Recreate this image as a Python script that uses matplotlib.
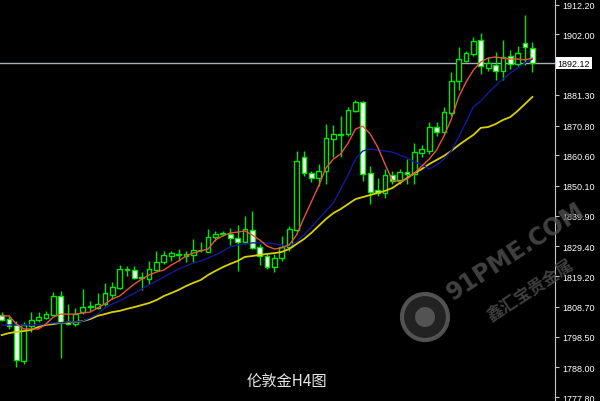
import matplotlib
matplotlib.use("Agg")
import matplotlib.pyplot as plt
import matplotlib.transforms as mtransforms
from matplotlib.patches import Rectangle, Circle

# H4 candles (oldest first)
opens = [1805.9, 1804.5, 1802.5, 1790.1, 1802.1, 1804.2, 1804.9, 1805.9, 1812.4, 1803.5,
         1802.8, 1806.9, 1808.6, 1808.3, 1809.7, 1812.8, 1815.1, 1821.3, 1821.3, 1818.6,
         1818.2, 1821.3, 1824.1, 1826.1, 1826.6, 1826.1, 1826.5, 1828.0, 1827.5, 1832.6,
         1833.8, 1833.6, 1832.3, 1830.9, 1835.0, 1829.2, 1826.1, 1822.3, 1825.4, 1829.2,
         1835.0, 1860.0, 1854.5, 1852.8, 1855.2, 1866.2, 1867.7, 1867.9, 1875.8, 1878.9,
         1854.5, 1848.7, 1847.7, 1853.9, 1852.1, 1854.9, 1854.2, 1861.4, 1862.1, 1870.3,
         1868.6, 1875.1, 1886.1, 1892.9, 1895.3, 1900.1, 1890.5, 1891.5, 1889.5, 1894.6,
         1891.9, 1899.1, 1897.4]
highs = [1806.9, 1805.6, 1803.8, 1803.5, 1806.9, 1806.9, 1807.3, 1813.8, 1814.1, 1809.7,
         1808.3, 1814.8, 1810.7, 1813.4, 1816.9, 1817.2, 1823.0, 1822.7, 1822.7, 1820.6,
         1824.4, 1827.8, 1827.8, 1827.8, 1828.5, 1827.8, 1831.9, 1830.9, 1835.4, 1834.7,
         1834.7, 1835.7, 1836.7, 1839.8, 1841.5, 1830.2, 1826.8, 1826.8, 1833.0, 1836.4,
         1862.1, 1862.1, 1855.2, 1857.6, 1871.3, 1871.0, 1874.1, 1877.2, 1879.6, 1879.2,
         1856.9, 1852.8, 1855.9, 1855.2, 1855.9, 1859.3, 1864.8, 1864.1, 1872.0, 1872.0,
         1877.2, 1889.1, 1897.7, 1896.3, 1901.1, 1902.5, 1894.3, 1896.0, 1900.1, 1896.7,
         1898.1, 1908.7, 1899.4]
lows = [1803.8, 1801.1, 1788.1, 1789.1, 1800.1, 1803.5, 1804.5, 1805.6, 1791.2, 1802.5,
        1802.1, 1806.2, 1807.3, 1808.0, 1809.0, 1811.4, 1814.8, 1819.3, 1818.2, 1814.5,
        1816.5, 1821.0, 1823.4, 1824.4, 1824.4, 1824.1, 1824.1, 1827.5, 1827.5, 1831.3,
        1833.0, 1829.9, 1821.0, 1830.2, 1828.5, 1823.0, 1821.7, 1820.6, 1824.4, 1827.8,
        1834.3, 1853.5, 1851.5, 1850.1, 1850.8, 1860.0, 1860.0, 1867.2, 1875.4, 1851.8,
        1843.9, 1846.7, 1846.0, 1850.8, 1850.8, 1850.8, 1850.8, 1860.0, 1861.1, 1867.2,
        1867.9, 1874.1, 1883.0, 1892.6, 1894.6, 1888.5, 1889.5, 1886.4, 1886.4, 1890.2,
        1891.2, 1891.5, 1889.1]
closes = [1804.2, 1802.1, 1790.5, 1802.5, 1804.2, 1805.2, 1806.2, 1812.4, 1803.5, 1802.8,
          1806.2, 1808.6, 1809.0, 1809.7, 1813.4, 1815.5, 1821.7, 1821.7, 1818.6, 1818.9,
          1821.7, 1824.1, 1826.5, 1827.1, 1826.8, 1826.8, 1828.2, 1828.2, 1832.6, 1833.6,
          1834.0, 1832.3, 1830.9, 1835.4, 1828.9, 1826.1, 1822.3, 1825.4, 1829.2, 1835.4,
          1858.7, 1854.5, 1852.8, 1855.2, 1866.5, 1867.9, 1867.9, 1876.1, 1878.9, 1854.2,
          1848.0, 1847.7, 1853.9, 1851.8, 1854.9, 1854.2, 1861.7, 1862.8, 1870.3, 1868.6,
          1875.4, 1886.1, 1893.6, 1895.7, 1899.8, 1891.2, 1892.2, 1889.5, 1894.3, 1891.9,
          1895.7, 1897.7, 1892.12]

# moving averages as drawn on the chart
ma_red = [1805.6, 1805.6, 1802.8, 1801.1, 1801.1, 1801.1, 1802.8, 1805.2, 1806.2, 1806.2,
          1806.2, 1806.6, 1806.9, 1808.3, 1809.7, 1811.4, 1812.4, 1814.5, 1816.5, 1818.2,
          1819.6, 1820.6, 1821.3, 1823.0, 1824.4, 1826.1, 1827.1, 1827.8, 1828.5, 1831.6,
          1833.0, 1834.0, 1834.3, 1834.7, 1833.3, 1831.6, 1829.5, 1828.5, 1828.9, 1829.9,
          1833.3, 1839.1, 1844.6, 1850.1, 1856.3, 1859.3, 1861.1, 1864.8, 1869.6, 1870.6,
          1867.9, 1863.5, 1857.6, 1852.1, 1851.5, 1852.5, 1854.5, 1856.9, 1859.3, 1862.4,
          1867.2, 1873.0, 1880.6, 1885.7, 1889.8, 1892.6, 1893.9, 1894.3, 1893.9, 1893.6,
          1893.6, 1893.3, 1893.9]
ma_blue = [1802.5, 1802.5, 1802.5, 1802.5, 1802.5, 1802.5, 1802.8, 1803.2, 1803.2, 1803.5,
           1803.5, 1803.8, 1804.9, 1806.2, 1808.3, 1809.7, 1810.7, 1812.1, 1813.4, 1814.8,
           1816.2, 1817.5, 1818.9, 1820.3, 1821.7, 1822.7, 1823.7, 1824.4, 1825.4, 1826.5,
           1827.8, 1829.2, 1829.9, 1830.2, 1830.6, 1830.6, 1830.6, 1830.2, 1829.9, 1829.5,
           1830.9, 1833.3, 1836.0, 1838.8, 1841.5, 1844.3, 1849.1, 1853.9, 1859.3, 1862.1,
           1862.8, 1862.4, 1862.1, 1861.7, 1860.7, 1859.7, 1858.3, 1857.3, 1855.9, 1857.3,
           1859.3, 1862.1, 1866.9, 1872.0, 1877.2, 1879.2, 1882.0, 1884.4, 1886.7, 1888.8,
           1890.5, 1892.2, 1893.6]
ma_yellow = [1799.0, 1799.7, 1800.1, 1800.4, 1800.8, 1801.8, 1802.5, 1802.8, 1803.2, 1803.3,
             1803.5, 1803.8, 1804.5, 1805.6, 1806.2, 1806.9, 1807.3, 1808.0, 1808.6, 1809.3,
             1810.0, 1811.0, 1812.4, 1813.4, 1814.5, 1815.8, 1816.9, 1817.9, 1819.6, 1821.0,
             1822.3, 1823.4, 1824.4, 1825.8, 1826.1, 1826.5, 1826.8, 1827.1, 1827.5, 1828.5,
             1830.2, 1831.9, 1834.0, 1836.4, 1838.8, 1840.8, 1842.2, 1843.9, 1845.6, 1846.3,
             1847.0, 1847.7, 1848.4, 1849.4, 1851.1, 1852.8, 1854.5, 1855.9, 1857.6, 1859.0,
             1860.4, 1862.1, 1864.1, 1865.9, 1867.6, 1870.0, 1870.3, 1871.3, 1872.7, 1873.7,
             1875.8, 1878.2, 1880.6]

y_ticks = [1912.20, 1902.00, 1881.30, 1870.80, 1860.60, 1850.10, 1839.90, 1829.40,
           1819.20, 1808.70, 1798.50, 1788.00, 1777.80]
last_price = 1892.12
title = "伦敦金H4图"
wm_site = "91PME.COM"
wm_name = "鑫汇宝贵金属"

plt.rcParams['font.family'] = ['Noto Sans CJK SC', 'DejaVu Sans']

fig = plt.figure(figsize=(6, 4.02), dpi=100, facecolor='black')
ax = fig.add_axes([0, 0, 555 / 600, 1])
ax.set_facecolor('black')

green = '#00e600'
n = len(closes)
for i in range(n):
    o, h, l, c = opens[i], highs[i], lows[i], closes[i]
    ax.vlines(i, l, h, color=green, lw=1, zorder=2)
    bottom = min(o, c)
    height = abs(c - o)
    face = 'white' if c < o else 'black'
    ax.add_patch(Rectangle((i - 0.32, bottom), 0.64, height, facecolor=face,
                           edgecolor=green, lw=1, zorder=3))

xs = list(range(n))
ax.plot(xs, ma_yellow, color='#d8d000', lw=1.3, zorder=4)
ax.plot(xs, ma_blue, color='#101a9a', lw=1, zorder=4)
ax.plot(xs, ma_red, color='#e8553a', lw=1, zorder=4)

ax.axhline(last_price, color='#a8b0b8', lw=1, zorder=1)

ax.set_xlim(-0.23, 75.07)
ax.set_ylim(1776.43, 1914.15)

for s in ['left', 'top', 'bottom']:
    ax.spines[s].set_visible(False)
ax.spines['right'].set_color('#c8c8c8')
ax.set_xticks([])
ax.yaxis.tick_right()
ax.set_yticks(y_ticks)
ax.set_yticklabels([f"{v:.2f}" for v in y_ticks])
ax.tick_params(axis='y', colors='#c8c8c8', labelcolor='white', length=3,
               pad=2, labelsize=6.5, labelfontfamily='Liberation Sans')

trans = mtransforms.blended_transform_factory(ax.transAxes, ax.transData)
ax.text(1.005, last_price, f"{last_price:.2f}", transform=trans, ha='left', va='center',
        fontsize=6.5, family='Liberation Sans', color='black', zorder=6,
        bbox=dict(facecolor='white', edgecolor='none', pad=1.0))

# watermark
fig.text(0.86, 0.375, wm_site, rotation=33, ha='center', va='center', fontsize=17,
         fontweight='bold', color='#505050', alpha=0.8, family='DejaVu Sans')
fig.text(0.885, 0.275, wm_name, rotation=33, ha='center', va='center', fontsize=12,
         fontweight='bold', color='#505050', alpha=0.8)
fig.patches.append(Circle((425, 402 - 318), 23, transform=None, facecolor='#262626',
                          edgecolor='#5a5a5a', lw=3, alpha=0.9, zorder=5))
fig.patches.append(Circle((425, 402 - 318), 10, transform=None, facecolor='#606060',
                          edgecolor='none', alpha=0.8, zorder=5))

fig.text(0.478, 0.05, title, ha='center', va='center', fontsize=11, color='#e6e6e6')

fig.savefig('out.png', dpi=100, facecolor='black')
